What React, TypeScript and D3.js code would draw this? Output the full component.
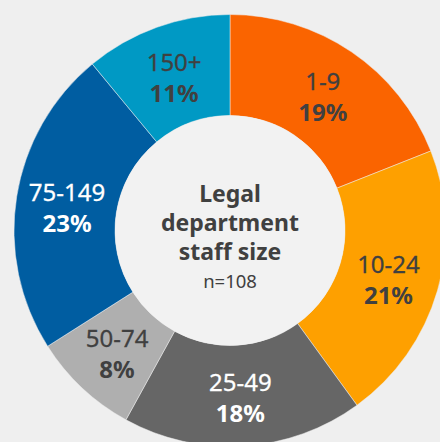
import React, { useEffect, useRef } from 'react';
import * as d3 from 'd3';

interface Slice {
  label: string;
  value: number;
}

const categories = ['1-9', '10-24', '25-49', '50-74', '75-149', '150+'];
const shares = [19, 21, 18, 8, 23, 11];
const sliceColors = ['#fa6400', '#fea000', '#666666', '#afafaf', '#005da1', '#0099c4'];
const labelColors = ['#404040', '#404040', '#ffffff', '#404040', '#ffffff', '#404040'];
const centerLines = ['Legal', 'department', 'staff size'];
const sampleNote = 'n=108';

const App: React.FC = () => {
  const svgRef = useRef<SVGSVGElement>(null);

  useEffect(() => {
    if (!svgRef.current) return;
    const width = 440;
    const height = 442;
    const cx = 230;
    const cy = 230.5;
    const outer = 216;
    const inner = 115;
    const font = "'Noto Sans', sans-serif";

    const svg = d3.select(svgRef.current);
    svg.selectAll('*').remove();

    svg.append('rect').attr('width', width).attr('height', height).attr('fill', '#efefef');

    const data: Slice[] = categories.map((c, i) => ({ label: c, value: shares[i] }));

    const pie = d3.pie<Slice>().value(d => d.value).sort(null);
    const arc = d3.arc<d3.PieArcDatum<Slice>>().innerRadius(inner).outerRadius(outer);
    const labelArc = d3.arc<d3.PieArcDatum<Slice>>().innerRadius(165).outerRadius(165);

    const g = svg.append('g').attr('transform', `translate(${cx},${cy})`);
    const arcs = pie(data);

    g.selectAll('path')
      .data(arcs)
      .join('path')
      .attr('d', arc)
      .attr('fill', (_, i) => sliceColors[i])
      .attr('stroke', '#efefef')
      .attr('stroke-width', 0.5);

    // donut hole, a touch lighter than the page
    g.append('circle').attr('r', inner).attr('fill', '#f2f2f2');

    const labels = g.selectAll('g.lbl')
      .data(arcs)
      .join('g')
      .attr('class', 'lbl')
      .attr('transform', d => {
        const [x, y] = labelArc.centroid(d);
        return `translate(${x},${y})`;
      });

    // medium weight in the original: regular plus a hairline stroke
    labels.append('text')
      .attr('y', -4)
      .attr('text-anchor', 'middle')
      .attr('font-family', font)
      .attr('font-size', 24)
      .attr('fill', (_, i) => labelColors[i])
      .attr('stroke', (_, i) => labelColors[i])
      .attr('stroke-width', 0.28)
      .text(d => d.data.label);

    labels.append('text')
      .attr('y', 27)
      .attr('text-anchor', 'middle')
      .attr('font-family', font)
      .attr('font-size', 24)
      .attr('font-weight', 'bold')
      .attr('fill', (_, i) => labelColors[i])
      .text(d => `${d.data.value}%`);

    // center title
    centerLines.forEach((line, i) => {
      g.append('text')
        .attr('y', -29 + i * 29)
        .attr('text-anchor', 'middle')
        .attr('font-family', font)
        .attr('font-size', 23)
        .attr('font-weight', 'bold')
        .attr('fill', '#404040')
        .text(line);
    });

    g.append('text')
      .attr('y', 57.5)
      .attr('text-anchor', 'middle')
      .attr('font-family', font)
      .attr('font-size', 18.5)
      .attr('fill', '#404040')
      .text(sampleNote);
  }, []);

  return (
    <svg
      ref={svgRef}
      width={440}
      height={442}
      style={{ position: 'absolute', left: 0, top: 0 }}
    />
  );
};

export default App;
